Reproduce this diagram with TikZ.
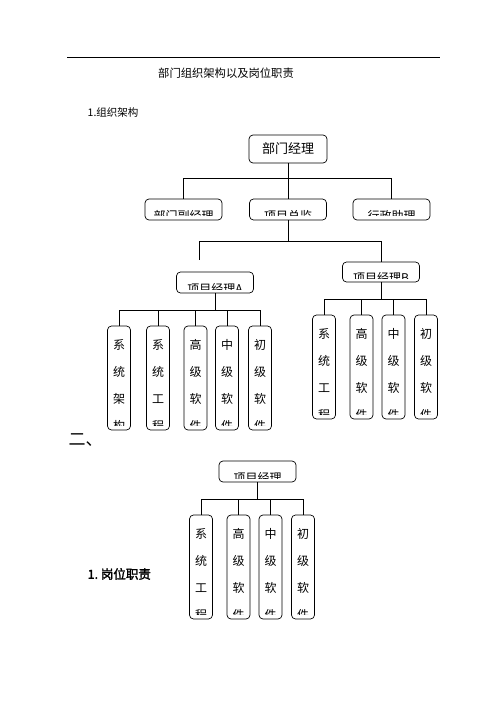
\documentclass[tikz,border=0pt]{standalone}
\usepackage{fontspec}
\setmainfont{Noto Sans CJK SC}
\newfontfamily\cjkbold[FakeBold=2]{Noto Sans CJK SC}
\usetikzlibrary{positioning}

% four characters down a column, the last one cut short
\newcommand\colchars[4]{%
  \clip ([yshift=5pt]path picture bounding box.south west)
    rectangle (path picture bounding box.north east);
  \path ([yshift=-19pt]path picture bounding box.north) node[glyph] {#1}
    ++(0,-27pt) node[glyph] {#2} ++(0,-27pt) node[glyph] {#3}
    ++(0,-27pt) node[glyph] {#4};}

\begin{document}
\begin{tikzpicture}[x=1pt,y=-1pt,line width=0.7pt,
    box/.style={draw, rounded corners=4pt, inner sep=0pt},
    headbox/.style={box, minimum width=77pt, minimum height=21pt},
    colbox/.style={box, minimum width=23pt, minimum height=104pt},
    glyph/.style={draw=none, inner sep=0pt, minimum size=0pt,
      font=\fontsize{12}{12}\selectfont},
    cut/.style={path picture={%
      \clip ([yshift=4pt]path picture bounding box.south west)
        rectangle (path picture bounding box.north east);
      \node[glyph] at ([yshift=4pt]path picture bounding box.south) {#1};}}]
    \path[fill=white] (0,0) rectangle (503,711);
    \useasboundingbox (0,0) rectangle (503,711);

    \draw (67,57) -- (440,57);
    \node[font=\fontsize{11.3}{12}\selectfont] (title) at (226,73) {部门组织架构以及岗位职责};
    \node[anchor=west, font=\fontsize{10.5}{12}\selectfont] (sec1) at (84,113) {1.组织架构};
    \node[anchor=west, font=\fontsize{17}{17}\selectfont] (sec2) at (65,440) {二、};
    \node[anchor=west, font=\cjkbold\fontsize{12.5}{13}\selectfont] (duty) at (84,574) {1.\ 岗位职责};

    % top levels
    \node[box, minimum width=78pt, minimum height=28pt,
      font=\fontsize{13}{13}\selectfont] (boss) at (288,149) {部门经理};
    \node[headbox, cut=部门副经理] (deputy)   at (183.5,209.5) {};
    \node[headbox, cut=项目总监]   (director) at (288,209.5)   {};
    \node[headbox, cut=行政助理]   (assist)   at (391.5,209.5) {};
    \node[headbox, cut=项目经理A]  (pmA)      at (215,282.5)   {};
    \node[headbox, cut=项目经理B, minimum height=20pt] (pmB) at (381,272) {};
    \coordinate (stubA) at (199,260);

    % team A
    \node[colbox, path picture={\colchars{系}{统}{架}{构}}] (a1) at (119,378)   {};
    \node[colbox, path picture={\colchars{系}{统}{工}{程}}] (a2) at (158,378)   {};
    \node[colbox, path picture={\colchars{高}{级}{软}{件}}] (a3) at (195.5,378) {};
    \node[colbox, path picture={\colchars{中}{级}{软}{件}}] (a4) at (227,378)   {};
    \node[colbox, path picture={\colchars{初}{级}{软}{件}}] (a5) at (260,378)   {};

    % team B
    \node[colbox, path picture={\colchars{系}{统}{工}{程}}] (b1) at (324,367)   {};
    \node[colbox, path picture={\colchars{高}{级}{软}{件}}] (b2) at (361.5,367) {};
    \node[colbox, path picture={\colchars{中}{级}{软}{件}}] (b3) at (393.5,367) {};
    \node[colbox, path picture={\colchars{初}{级}{软}{件}}] (b4) at (426,367)   {};

    % second chart
    \node[headbox, cut=项目经理] (pm) at (257.5,471.5) {};
    \node[colbox, path picture={\colchars{系}{统}{工}{程}}] (c1) at (201,567)   {};
    \node[colbox, path picture={\colchars{高}{级}{软}{件}}] (c2) at (238.5,567) {};
    \node[colbox, path picture={\colchars{中}{级}{软}{件}}] (c3) at (270.5,567) {};
    \node[colbox, path picture={\colchars{初}{级}{软}{件}}] (c4) at (303,567)   {};

    \draw (boss) -- (director);
    \draw (boss.south) -- ++(0,15) -| (deputy);
    \draw (boss.south) -- ++(0,15) -| (assist);
    \draw (director.south) -- ++(0,21) -| (stubA);
    \draw (director.south) -- ++(0,21) -| (pmB);
    \foreach \n in {a1,a2,a3,a4,a5}
      \draw (pmA.south) -- ++(0,17) -| (\n);
    \foreach \n in {b1,b2,b3,b4}
      \draw (pmB.south) -- ++(0,17) -| (\n);
    \foreach \n in {c1,c2,c3,c4}
      \draw (pm.south) -- ++(0,17) -| (\n);
  \end{tikzpicture}
\end{document}
